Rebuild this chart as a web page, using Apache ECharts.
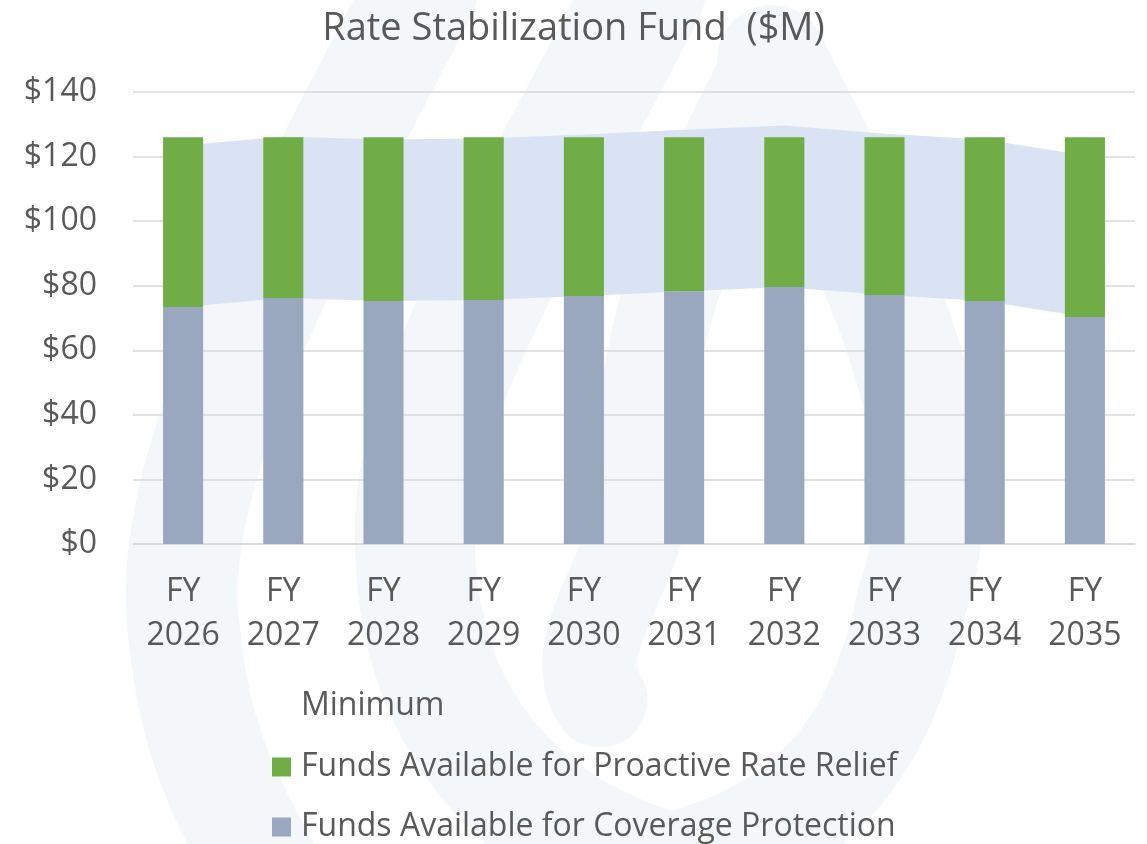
<!DOCTYPE html>
<html>
<head>
<meta charset="utf-8">
<script src="https://cdn.jsdelivr.net/npm/echarts@6/dist/echarts.min.js"></script>
<style>
  html, body { margin: 0; padding: 0; background: #fff; }
  #chart { width: 1147px; height: 844px; }
</style>
</head>
<body>
<div id="chart"></div>
<script>
const years = ['FY\n2026', 'FY\n2027', 'FY\n2028', 'FY\n2029', 'FY\n2030', 'FY\n2031', 'FY\n2032', 'FY\n2033', 'FY\n2034', 'FY\n2035'];
// grey part of each bar
const coverage = [73.4, 76.2, 75.3, 75.6, 76.8, 78.3, 79.6, 77.1, 75.3, 70.3];
// green part on top
const relief = [52.6, 49.8, 50.7, 50.4, 49.2, 47.7, 46.4, 48.9, 50.7, 55.7];
// shaded band: bottom edge + thickness
const minimum = [73.4, 76.2, 75.3, 75.6, 76.8, 78.3, 79.6, 77.1, 75.3, 70.3];
const band = [50, 50, 50, 50, 50, 50, 50, 50, 50, 50];
const yTicks = [0, 20, 40, 60, 80, 100, 120, 140];

const txt = '#595959';
const font = 'Open Sans';
const wm = '#f4f7fa'; // faint logo behind the plot

// rough strokes of the watermark logo: x1,y1, cp1, cp2, x2,y2, width
const curves = [
  [422, -10, 280, 260, 160, 480, 185, 640, 112],
  [185, 640, 195, 740, 225, 800, 270, 880, 112],
  [646, -10, 540, 200, 420, 380, 415, 520, 120],
  [415, 520, 410, 700, 500, 820, 660, 870, 120],
  [772, 60, 850, 220, 975, 420, 912, 600, 110],
  [912, 600, 880, 760, 800, 840, 660, 870, 110],
  [772, 60, 700, 200, 640, 330, 645, 470, 95],
  [645, 470, 650, 560, 560, 640, 600, 700, 95]
];

// one legend box per row so they stack like the original
const legendRow = (name, top, hidden) => ({
  orient: 'vertical',
  left: 272,
  top: top,
  padding: 0,
  itemWidth: 19,
  itemHeight: 19,
  textStyle: { color: txt, fontFamily: font, fontSize: 32, lineHeight: 32, padding: [0, 0, 0, 5] },
  data: [hidden ? { name: name, icon: 'rect', itemStyle: { opacity: 0 } } : { name: name, icon: 'rect' }]
});

const chart = echarts.init(document.getElementById('chart'));

const option = {
  backgroundColor: '#fff',
  animation: false,
  graphic: curves.map(c => ({
    type: 'bezierCurve', z: -10, silent: true,
    shape: { x1: c[0], y1: c[1], cpx1: c[2], cpy1: c[3], cpx2: c[4], cpy2: c[5], x2: c[6], y2: c[7] },
    style: { fill: null, stroke: wm, lineWidth: c[8], lineCap: 'round' }
  })),
  title: {
    text: 'Rate Stabilization Fund  ($M)',
    left: 'center',
    top: 5,
    textStyle: { color: txt, fontFamily: font, fontSize: 38, fontWeight: 'normal' }
  },
  grid: { left: 133, right: 12, top: 92, bottom: 300 },
  legend: [
    legendRow('Minimum', 690, true),
    legendRow('Funds Available for Proactive Rate Relief', 751),
    legendRow('Funds Available for Coverage Protection', 811)
  ],
  xAxis: {
    type: 'category',
    data: years,
    axisTick: { show: false },
    axisLine: { lineStyle: { color: '#d9d9d9', width: 1.5 } },
    axisLabel: { color: txt, fontFamily: font, fontSize: 32, lineHeight: 44, margin: 26 }
  },
  yAxis: {
    type: 'value',
    min: 0,
    max: 140,
    interval: 20,
    axisLine: { show: false },
    axisTick: { show: false },
    splitLine: { lineStyle: { color: '#d9d9d9', width: 1.5 } },
    axisLabel: {
      color: txt, fontFamily: font, fontSize: 32, margin: 36,
      formatter: v => yTicks.includes(v) ? '$' + v : ''
    }
  },
  series: [
    {
      name: 'Minimum',
      type: 'line',
      stack: 'band',
      data: minimum,
      symbol: 'none',
      lineStyle: { width: 0 },
      itemStyle: { color: 'transparent' },
      z: 1
    },
    {
      name: 'Range',
      type: 'line',
      stack: 'band',
      data: band,
      symbol: 'none',
      lineStyle: { width: 0 },
      areaStyle: { color: '#dae3f3', opacity: 1 },
      itemStyle: { color: '#dae3f3' },
      z: 1
    },
    {
      name: 'Funds Available for Coverage Protection',
      type: 'bar',
      stack: 'funds',
      data: coverage,
      barWidth: '40%',
      itemStyle: { color: '#9aa8bf' },
      z: 3
    },
    {
      name: 'Funds Available for Proactive Rate Relief',
      type: 'bar',
      stack: 'funds',
      data: relief,
      barWidth: '40%',
      itemStyle: { color: '#70ad47' },
      z: 3
    }
  ]
};

chart.setOption(option);
</script>
</body>
</html>
